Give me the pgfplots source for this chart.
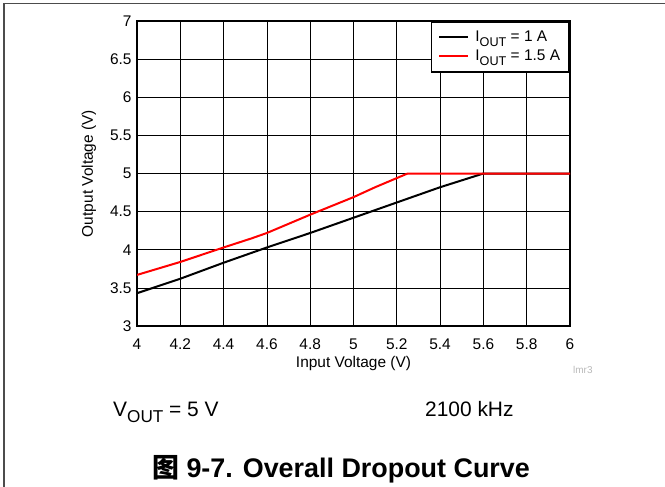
\documentclass[border=0pt]{standalone}
\usepackage{fontspec}
\setmainfont{Liberation Sans}
\newfontfamily\cjk{Noto Sans CJK SC}
\usepackage{pgfplots}
\pgfplotsset{compat=1.18}

\newcommand{\sub}[1]{\raisebox{-0.3em}{\scalebox{0.82}{#1}}}

\pgfplotstableread{
x y
4.0 3.43
4.2 3.62
4.4 3.83
4.6 4.03
4.8 4.22
5.0 4.42
5.2 4.62
5.4 4.82
5.6 5.00
6.0 5.00
}\onea

\pgfplotstableread{
x y
4.0  3.67
4.2  3.84
4.4  4.03
4.53 4.15
4.6  4.22
4.8  4.46
5.0  4.69
5.1  4.82
5.25 5.00
6.0  5.00
}\onefivea

\begin{document}
\begin{tikzpicture}
\useasboundingbox (0bp,0bp) rectangle (665bp,-487bp);
% page frame
\draw[gray!60!black, line width=1.3bp] (665bp,-3.5bp) -- (4bp,-3.5bp) -- (4bp,-487bp);

\begin{axis}[
    scale only axis,
    width=433bp, height=305bp,
    at={(137bp,-326bp)}, anchor=south west,
    xmin=4, xmax=6, ymin=3, ymax=7,
    xtick={4,4.2,...,6.01}, ytick={3,3.5,...,7.01},
    xticklabels={4,4.2,4.4,4.6,4.8,5,5.2,5.4,5.6,5.8,6},
    yticklabels={3,3.5,4,4.5,5,5.5,6,6.5,7},
    major tick length=0pt,
    grid=major,
    grid style={black, line width=0.7bp},
    axis line style={black, line width=2.2bp},
    tick label style={font=\fontsize{15.5}{17}\selectfont},
    /pgf/number format/assume math mode=true,
    xticklabel style={yshift=-9bp},
    yticklabel style={xshift=-2bp},
    xlabel={Input Voltage (V)},
    ylabel={Output Voltage (V)},
    label style={font=\fontsize{15.5}{17}\selectfont},
    xlabel style={at={(axis description cs:0.5,-0.124)}, anchor=center},
    ylabel style={at={(axis description cs:-0.111,0.5)}, anchor=center, rotate=0},
    legend style={at={(1,1)}, anchor=north east, draw=black, line width=1.8bp,
        font=\fontsize{15.5}{17}\selectfont, inner xsep=7bp, inner ysep=6bp,
        row sep=0bp},
    legend cell align=left,
    legend image code/.code={\draw[#1] (0bp,0bp) -- (29bp,0bp);
        \path[draw=none, fill=none] (0bp,-9.5bp) rectangle (34bp,9.5bp);},
]
\addplot[black, line width=2bp] table[x=x, y=y] {\onea};
\addplot[red, line width=2bp] table[x=x, y=y] {\onefivea};
\legend{I\sub{OUT} = 1 A, I\sub{OUT} = 1.5 A}
\end{axis}

\node[anchor=base west, text=gray!55, font=\fontsize{10}{12}\selectfont, inner sep=0pt] at (573bp,-373bp) {lmr3};
\node[anchor=base west, font=\fontsize{21}{24}\selectfont, inner sep=0pt] at (113bp,-416bp) {V\sub{OUT} = 5 V};
\node[anchor=base west, font=\fontsize{21}{24}\selectfont, inner sep=0pt] at (425bp,-416bp) {2100 kHz};
\node[anchor=base, font=\fontsize{27}{30}\selectfont\bfseries, inner sep=0pt] at (341bp,-477bp) {{\cjk 图} 9-7. Overall Dropout Curve};
\end{tikzpicture}
\end{document}
